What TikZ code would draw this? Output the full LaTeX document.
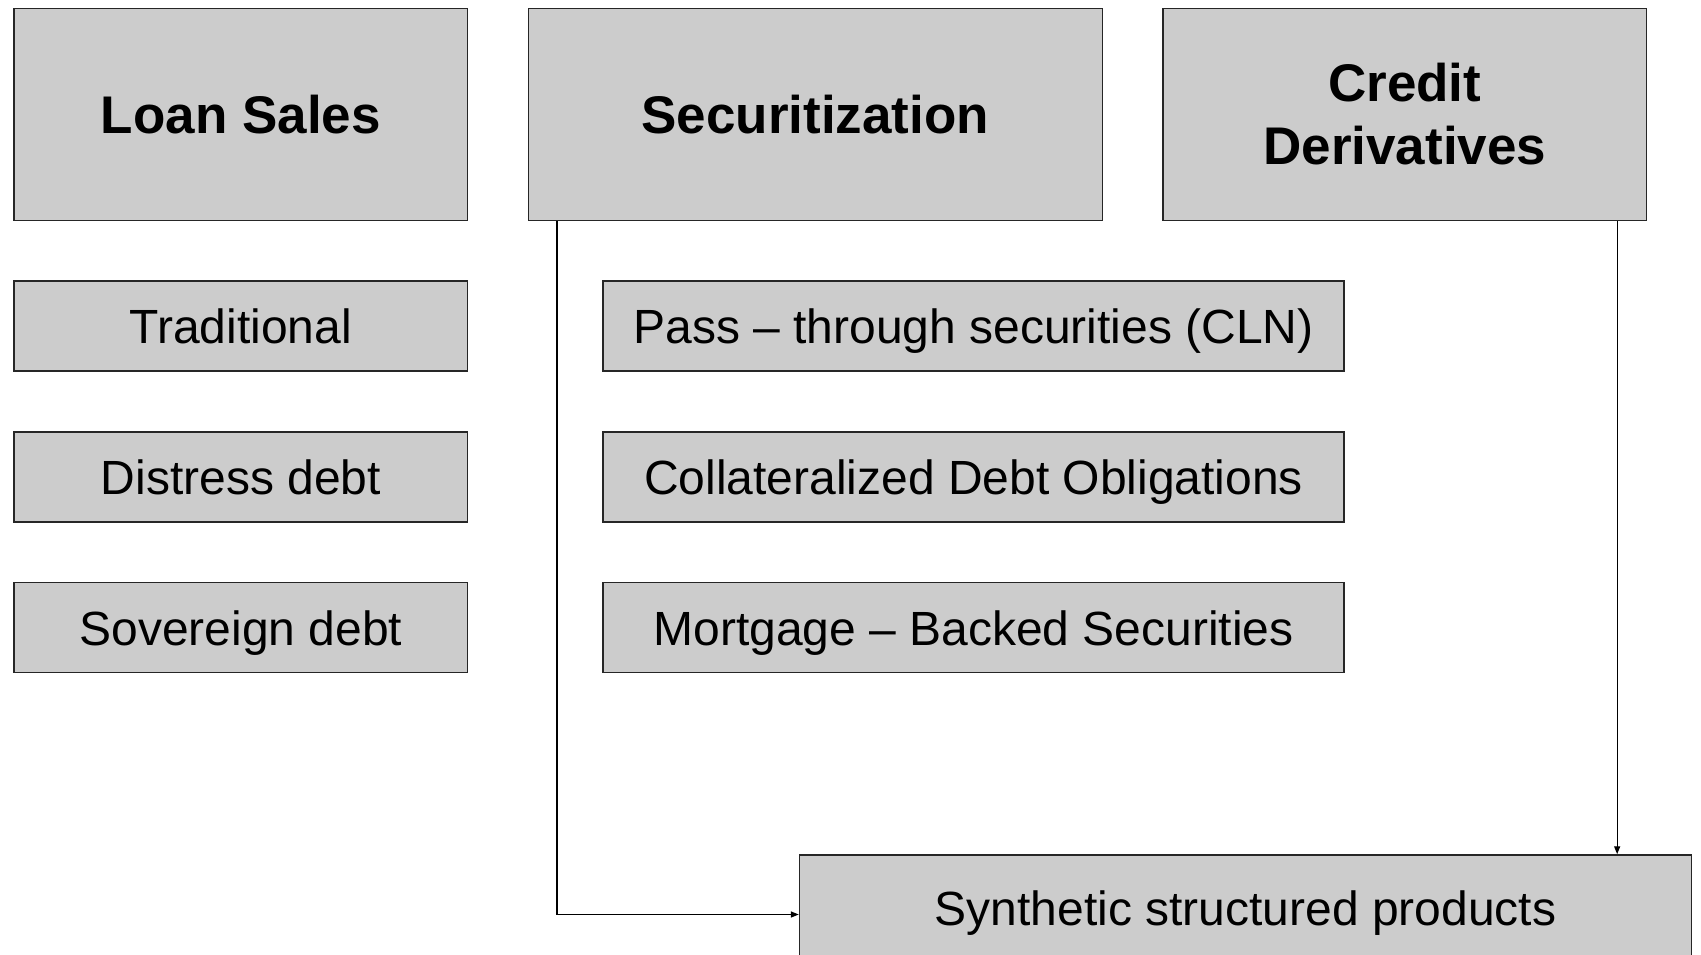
\documentclass[tikz,border=0pt]{standalone}
\usepackage{fontspec}
\setmainfont{Liberation Sans}
\usetikzlibrary{arrows.meta}
\definecolor{boxfill}{HTML}{CCCCCC}
\begin{document}
\begin{tikzpicture}[x=1pt,y=-1pt,
  box/.style={draw=black!85, line width=1.5pt, fill=boxfill, inner sep=0pt, align=center},
  head/.style={box, font=\fontsize{53}{63}\selectfont\bfseries},
  item/.style={box, font=\fontsize{48}{56}\selectfont, text height=35pt, text depth=0pt},
  arr/.style={draw=black, line width=1.3pt, -{Triangle[length=8pt,width=6pt]}}]
\useasboundingbox (0,0) rectangle (1701,955);
\clip (0,0) rectangle (1701,955);
\node[head, minimum width=453.5pt, minimum height=211.5pt] (loan) at (240.9,114.5) {Loan Sales};
\node[head, minimum width=573.9pt, minimum height=211.5pt] (sec) at (815.3,114.5) {Securitization};
\node[head, minimum width=483.8pt, minimum height=211.5pt] (cred) at (1404.8,114.5) {Credit\\Derivatives};
\node[item, minimum width=453.5pt, minimum height=90pt] (trad) at (240.9,326) {Traditional};
\node[item, minimum width=453.5pt, minimum height=90pt] (dist) at (240.9,476.8) {Distress debt};
\node[item, minimum width=453.5pt, minimum height=90pt] (sov) at (240.9,627.5) {Sovereign debt};
\node[item, minimum width=741pt, minimum height=90pt] (pass) at (973.6,326) {Pass – through securities (CLN)};
\node[item, minimum width=741pt, minimum height=90pt] (cdo) at (973.6,476.8) {Collateralized Debt Obligations};
\node[item, minimum width=741pt, minimum height=90pt] (mbs) at (973.6,627.5) {Mortgage – Backed Securities};
\node[item, minimum width=891.7pt, minimum height=106pt] (syn) at (1245.4,908) {Synthetic structured products};
\draw[arr] ([xshift=29.3pt]sec.south west) |- ([yshift=-6.5pt]syn.west);
\draw[arr] ([xshift=-30.3pt]cred.south east) -- ([xshift=-30.3pt]cred.south east |- syn.north);
\end{tikzpicture}
\end{document}
